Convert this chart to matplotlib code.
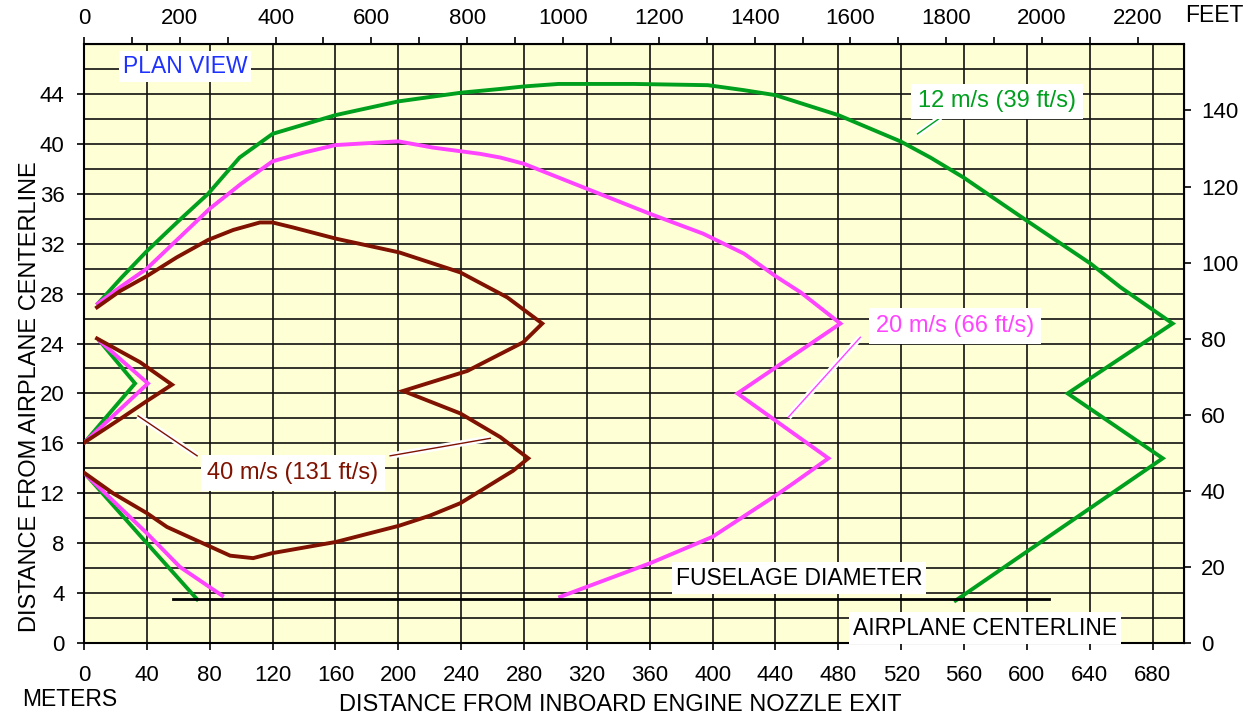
# importing libraries
import numpy as np
import matplotlib
matplotlib.use('Agg')
import matplotlib.pyplot as plt

plt.rcParams['font.family'] = ['Liberation Sans', 'DejaVu Sans']

# Velocity contours (x = meters from nozzle, y = meters from centerline)
# 12 m/s (39 ft/s) contour
green_main_x = [8.9, 24, 40, 60, 79, 99, 120, 160, 200, 240, 265, 280, 302, 350, 397, 420, 440, 480,
                519.5, 538.6, 559.7, 600.4, 640.5, 659.6, 692.7, 625.9, 686.4, 554.6]
green_main_y = [27.2, 29.3, 31.4, 33.8, 36.0, 38.9, 40.8, 42.3, 43.4, 44.1, 44.4, 44.6, 44.8, 44.8, 44.7, 44.3, 43.9, 42.3,
                40.2, 38.9, 37.3, 33.8, 30.4, 28.5, 25.6, 20.0, 14.8, 3.4]
green_left_x = [10, 32.5, 0.6]
green_left_y = [24.2, 20.8, 16.1]
green_low_x = [1.9, 40, 72]
green_low_y = [13.4, 8.0, 3.5]

# 20 m/s (66 ft/s) contour
pink_main_x = [8.9, 24, 40, 60, 80, 100, 120, 140, 160, 200, 222, 252, 265, 280, 320, 360, 394, 420, 440, 456,
               481.3, 415.8, 473.7, 451.4, 438.7, 399.8, 360.4, 320, 303]
pink_main_y = [27.2, 28.6, 30.0, 32.4, 34.8, 36.8, 38.6, 39.3, 39.9, 40.2, 39.7, 39.2, 38.9, 38.4, 36.4, 34.4, 32.8, 31.2, 29.4, 28.1,
               25.6, 20.0, 14.8, 12.8, 11.7, 8.5, 6.4, 4.5, 3.7]
pink_left_x = [10, 40.7, 0.6]
pink_left_y = [24.2, 20.8, 16.1]
pink_low_x = [1.9, 40, 61, 87.9]
pink_low_y = [13.4, 8.8, 6.1, 3.8]

# 40 m/s (131 ft/s) contour
red_main_x = [8.3, 22.9, 40, 59, 79, 95, 112, 120, 133, 160.4, 200.6, 239.4, 269.3, 291.6, 279.5, 243.9, 203.1,
              239.4, 264.9, 282.7, 273, 239.4, 220, 200.6, 160.4, 119.7, 107.6, 93, 79, 52.8, 40.1, 18.5, 0.6]
red_main_y = [26.9, 28.2, 29.4, 30.9, 32.3, 33.1, 33.7, 33.7, 33.3, 32.4, 31.3, 29.7, 27.7, 25.6, 24.1, 21.8, 20.2,
              18.4, 16.5, 14.8, 13.8, 11.2, 10.2, 9.4, 8.1, 7.2, 6.8, 7.0, 7.8, 9.3, 10.4, 12.0, 13.6]
red_left_x = [8.3, 35.7, 56, 40.1, 24.8, 0.6]
red_left_y = [24.4, 22.5, 20.7, 19.4, 18.1, 16.1]

# fuselage diameter line
fuse_x = [56.7, 613.8]
fuse_y = [3.55, 3.55]

# leader lines from the labels to the curves
lead_green = ([530.4, 545], [40.8, 42.1])
lead_pink = ([448.2, 494], [18.1, 24.5])
lead_red1 = ([34.4, 72], [18.2, 15.0])
lead_red2 = ([194.8, 258.5], [15.0, 16.4])

GREEN = '#00A01E'
PINK = '#FF44FF'
RED = '#7F1200'

M2FT = 3.28084

fig = plt.figure(figsize=(12.57, 7.19), dpi=100)
ax = fig.add_axes([0.0668, 0.1057, 0.942 - 0.0668, 0.9388 - 0.1057])
ax.set_facecolor('#FFFFD5')

ax.set_xlim(0, 700)
ax.set_ylim(0, 48)

# grid - vertical every 40 m, horizontal every 2 m
ax.set_xticks(np.arange(0, 681, 40))
ax.set_yticks(np.arange(0, 45, 4))
ax.set_xticks(np.arange(0, 700, 40), minor=True)
ax.set_yticks(np.arange(0, 48, 2), minor=True)
ax.grid(True, which='both', color='#111111', linewidth=1.2)
ax.set_axisbelow(True)
ax.tick_params(which='minor', length=0)
ax.tick_params(which='major', length=5, width=1.2, labelsize=16, direction='out')
ax.tick_params(axis='x', pad=11)
ax.tick_params(axis='y', pad=9)
for s in ax.spines.values():
    s.set_linewidth(1.5)

# draw contours
lw = 2.8
for xs, ys, c in [(green_main_x, green_main_y, GREEN), (green_left_x, green_left_y, GREEN), (green_low_x, green_low_y, GREEN),
                  (pink_main_x, pink_main_y, PINK), (pink_left_x, pink_left_y, PINK), (pink_low_x, pink_low_y, PINK),
                  (red_main_x, red_main_y, RED), (red_left_x, red_left_y, RED)]:
    ax.plot(xs, ys, color=c, linewidth=lw, solid_joinstyle='miter', zorder=3)

ax.plot(fuse_x, fuse_y, color='black', linewidth=2, zorder=3)

# leader lines: white halo with thin coloured line
for (lx, ly), c in [(lead_green, GREEN), (lead_pink, PINK), (lead_red1, RED), (lead_red2, RED)]:
    ax.plot(lx, ly, color='white', linewidth=4.5, solid_capstyle='butt', zorder=4)
    ax.plot(lx, ly, color=c, linewidth=1.0, zorder=5)

box = dict(facecolor='white', edgecolor='none', pad=3)
ax.text(64.3, 46.2, 'PLAN VIEW', color='#1E32FF', fontsize=16.5, ha='center', va='center', bbox=box, zorder=6)
ax.text(581, 43.4, '12 m/s (39 ft/s)', color=GREEN, fontsize=17, ha='center', va='center',
        bbox=dict(facecolor='white', edgecolor='none', pad=5), zorder=6)
ax.text(554, 25.4, '20 m/s (66 ft/s)', color=PINK, fontsize=17, ha='center', va='center',
        bbox=dict(facecolor='white', edgecolor='none', pad=5), zorder=6)
ax.text(133, 13.6, '40 m/s (131 ft/s)', color=RED, fontsize=17, ha='center', va='center',
        bbox=dict(facecolor='white', edgecolor='none', pad=5), zorder=6)
ax.text(455, 5.2, 'FUSELAGE DIAMETER', color='black', fontsize=16.5, ha='center', va='center', bbox=box, zorder=6)
ax.text(573.5, 1.2, 'AIRPLANE CENTERLINE', color='black', fontsize=16.5, ha='center', va='center', bbox=box, zorder=6)

# secondary axes in feet
top = ax.secondary_xaxis('top', functions=(lambda m: m * M2FT, lambda f: f / M2FT))
top.set_xticks(np.arange(0, 2201, 200))
top.set_xticks(np.arange(0, 2300, 100), minor=True)
top.tick_params(which='both', length=5, width=1.2, labelsize=16, pad=6)
right = ax.secondary_yaxis('right', functions=(lambda m: m * M2FT, lambda f: f / M2FT))
right.set_yticks(np.arange(0, 141, 20))
right.tick_params(which='major', length=5, width=1.2, labelsize=16, pad=7)
right.tick_params(which='minor', length=0)

# axis titles
fig.text(620 / 1257, 1 - 705 / 719, 'DISTANCE FROM INBOARD ENGINE NOZZLE EXIT', fontsize=17, ha='center', va='center')
fig.text(22 / 1257, 1 - 700 / 719, 'METERS', fontsize=16.5, ha='left', va='center')
fig.text(1185 / 1257, 1 - 15 / 719, 'FEET', fontsize=16.5, ha='left', va='center')
fig.text(30 / 1257, 1 - 397 / 719, 'DISTANCE FROM AIRPLANE CENTERLINE', fontsize=17, rotation=90, ha='center', va='center')

plt.savefig('out.png', dpi=100)
